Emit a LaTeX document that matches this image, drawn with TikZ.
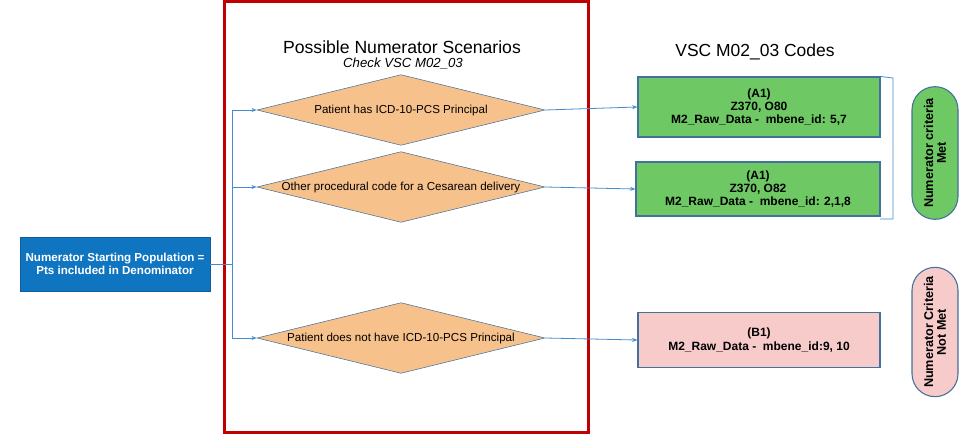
\documentclass[tikz,border=0pt]{standalone}
\usepackage{fontspec}
\setmainfont{Liberation Sans}
\usepackage{tikz}
\usetikzlibrary{arrows.meta, positioning, shapes.geometric, shapes.misc}

\definecolor{startblue}{RGB}{16,117,193}
\definecolor{decorange}{RGB}{247,193,140}
\definecolor{codegreen}{RGB}{110,200,100}
\definecolor{codepink}{RGB}{248,203,203}
\definecolor{edgeblue}{RGB}{65,113,156}
\definecolor{linkblue}{RGB}{70,140,205}
\definecolor{framered}{RGB}{192,0,0}

\begin{document}
\begin{tikzpicture}[x=0.75pt, y=-0.75pt,
    startbox/.style={rectangle, fill=startblue, draw=startblue!80!black, text=white,
        font=\fontsize{8.7}{10}\selectfont\bfseries, align=center,
        minimum width=142.5pt, minimum height=40.5pt},
    decision/.style={diamond, draw=edgeblue, fill=decorange, inner sep=0pt, aspect=4.06,
        minimum width=216pt, minimum height=53pt, font=\fontsize{8.7}{10}\selectfont},
    codebox/.style={rectangle, draw=edgeblue, line width=0.8pt, align=center,
        font=\fontsize{9}{10}\selectfont\bfseries, minimum width=181.5pt},
    pill/.style={rounded rectangle, draw=edgeblue, line width=0.8pt, rotate=90, align=center,
        font=\fontsize{9.5}{9.5}\selectfont\bfseries, minimum height=34.5pt, inner xsep=2pt},
    link/.style={draw=linkblue, line width=0.6pt},
    linkarrow/.style={link, -{Stealth[length=4pt, width=3pt]}}]

    \useasboundingbox (0,0) rectangle (973,435);

    % red frame round the scenarios
    \draw[framered, line width=2.25pt] (224,1.5) rectangle (588,432);

    % headings
    \node[font=\fontsize{13.2}{15}\selectfont] (scentitle) at (402,47) {Possible Numerator Scenarios};
    \node[font=\fontsize{9.9}{11}\selectfont\itshape] (scensub) at (403,64) {Check VSC M02\_03};
    \node[font=\fontsize{13.1}{15}\selectfont] (codetitle) at (755,52) {VSC M02\_03 Codes};

    % starting population
    \node[startbox] (start) at (115,264) {Numerator Starting Population =\\Pts included in Denominator};

    % scenarios
    \node[decision] (dhas) at (401,110) {Patient has ICD-10-PCS Principal};
    \node[decision] (dother) at (401,187) {Other procedural code for a Cesarean delivery};
    \node[decision] (dnot) at (401,338) {Patient does not have ICD-10-PCS Principal};

    % codes
    \node[codebox, fill=codegreen, minimum height=45pt] (ga) at (759,107)
        {(A1)\\Z370, O80\\M2\_Raw\_Data -\ \ mbene\_id: 5,7};
    \node[codebox, fill=codegreen, minimum height=40.5pt, minimum width=183pt] (gb) at (758,189)
        {(A1)\\Z370, O82\\M2\_Raw\_Data -\ \ mbene\_id: 2,1,8};
    \node[codebox, fill=codepink, minimum height=41pt] (pb) at (759,340)
        {(B1)\\M2\_Raw\_Data -\ \ mbene\_id:9, 10};

    % outcomes
    \node[pill, fill=codegreen, minimum width=103.5pt] (met) at (935,153) {Numerator criteria\\Met};
    \node[pill, fill=codepink, minimum width=101pt] (notmet) at (935,332) {Numerator Criteria\\Not Met};

    % connectors
    \coordinate (jmid) at (232,264);
    \coordinate (jtop) at (232,110);
    \coordinate (jtwo) at (232,187);
    \coordinate (jlow) at (232,338);
    \draw[link] (start.east) -- (jmid);
    \draw[link] (jtop) -- (jlow);
    \draw[linkarrow] (jtop) -- (dhas.west);
    \draw[linkarrow] (jtwo) -- (dother.west);
    \draw[linkarrow] (jlow) -- (dnot.west);
    \draw[linkarrow] (dhas.east) -- (ga.west);
    \draw[linkarrow] (dother.east) -- (gb.west);
    \draw[linkarrow] (dnot.east) -- (pb.west);

    % bracket round the met codes
    \draw[link] (ga.north east) -- (893,78) -- (893,219) -- (880,219);
\end{tikzpicture}
\end{document}
